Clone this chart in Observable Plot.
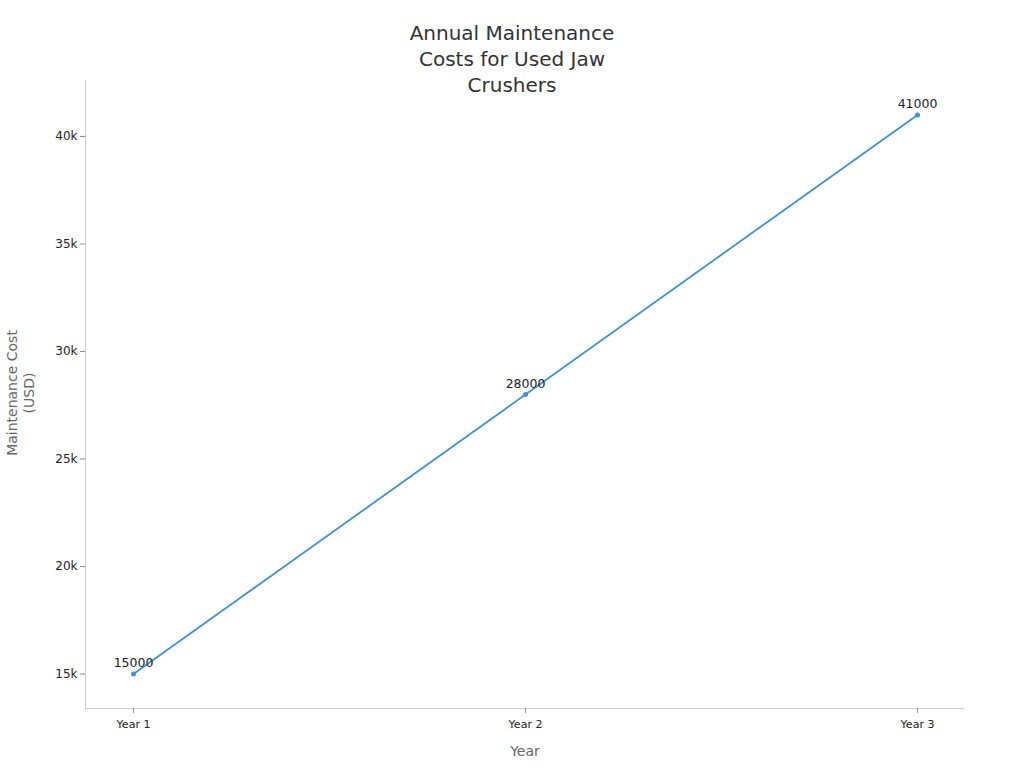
<!DOCTYPE html>
<html>
<head>
<meta charset="utf-8">
<script src="https://cdn.jsdelivr.net/npm/d3@7"></script>
<script src="https://cdn.jsdelivr.net/npm/@observablehq/plot@0.6"></script>
<style>
  html, body { margin: 0; padding: 0; background: #fff; }
  #wrap { position: relative; width: 1024px; height: 768px; font-family: "DejaVu Sans", sans-serif; }
  #title { position: absolute; left: 0; width: 1024px; top: 20px; text-align: center; font-size: 20px; line-height: 26px; color: #333; }
  #ylab { position: absolute; left: 21px; top: 393px; transform: translate(-50%, -50%) rotate(-90deg); text-align: center; font-size: 14px; line-height: 17px; color: #666; white-space: nowrap; }
  #xlab { position: absolute; left: 525px; top: 751px; transform: translate(-50%, -50%); font-size: 14px; color: #666; }
</style>
</head>
<body>
<div id="wrap">
  <div id="chart"></div>
  <div id="title">Annual Maintenance<br>Costs for Used Jaw<br>Crushers</div>
  <div id="ylab">Maintenance Cost<br>(USD)</div>
  <div id="xlab">Year</div>
</div>
<script>
const years = ["Year 1", "Year 2", "Year 3"];
const costs = [15000, 28000, 41000];
const yTicks = [15000, 20000, 25000, 30000, 35000, 40000];

const data = years.map((y, i) => ({year: y, cost: costs[i]}));
const yDomain = [13400, 42600];

const chart = Plot.plot({
  width: 1024,
  height: 768,
  marginLeft: 85,
  marginRight: 60,
  marginTop: 80,
  marginBottom: 60,
  style: {fontFamily: "DejaVu Sans, sans-serif", background: "transparent"},
  x: {type: "point", domain: years, padding: 0.12, label: null},
  y: {domain: yDomain, label: null},
  marks: [
    Plot.ruleY([yDomain[0]], {stroke: "#ccc"}),
    Plot.frame({anchor: "left", stroke: "#ccc"}),
    Plot.axisY({ticks: yTicks, tickFormat: d => d / 1000 + "k", tickSize: 5, tickPadding: 3, stroke: "#888", fill: "#222", fontSize: 12, label: null}),
    Plot.axisX({tickSize: 5, tickPadding: 7, stroke: "#999", fill: "#222", fontSize: 11, label: null}),
    Plot.line(data, {x: "year", y: "cost", stroke: "#3a92e0", strokeWidth: 1.8}),
    Plot.dot(data, {x: "year", y: "cost", fill: "#3a92e0", r: 2.5}),
    Plot.text(data, {x: "year", y: "cost", text: d => String(d.cost), dy: -11, fill: "#222", fontSize: 12.5})
  ]
});
document.getElementById("chart").appendChild(chart);
</script>
</body>
</html>
